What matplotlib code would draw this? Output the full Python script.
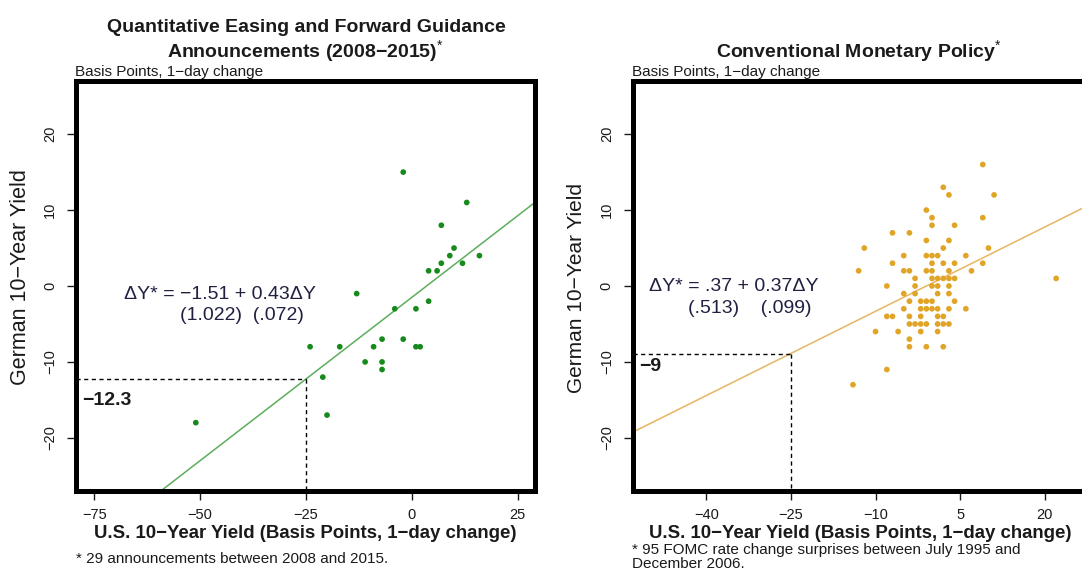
import matplotlib
matplotlib.use("Agg")
import matplotlib.pyplot as plt

plt.rcParams['font.family'] = ['Liberation Sans', 'DejaVu Sans']
plt.rcParams['mathtext.fontset'] = 'custom'
plt.rcParams['mathtext.rm'] = 'Liberation Sans'
plt.rcParams['mathtext.bf'] = 'Liberation Sans:bold'
plt.rcParams['axes.unicode_minus'] = True

# ---- QE and forward guidance announcements (2008-2015), bp 1-day change ----
qe_us = [-2, 13, 7, 10, 9, 7, 12, 16, 4, 6, -13, 4, -4, 1,
         -24, -17, -9, -7, -2, 1, 2, -11, -7, -7, -21, -20, -51]
qe_de = [15, 11, 8, 5, 4, 3, 3, 4, 2, 2, -1, -2, -3, -3,
         -8, -8, -8, -7, -7, -8, -8, -10, -10, -11, -12, -17, -18]
qe_intercept, qe_slope = -1.51, 0.43
qe_se = ["1.022", ".072"]
qe_at_us, qe_at_de = -25, -12.3

# ---- Conventional monetary policy surprises (1995-2006) ----
conv_us = [9, 2, 3, 11, -1,
           0, 9,
           0, 4,
           -7, -4,
           -1, 3,
           -12, 2, 10,
           -5, -1, 0, 1, 6,
           -7, 0, 2, 4, 9,
           -13, -5, -4, -1, 0, 3, 7,
           -3, 0, 1, 2, 3, 4, 22,
           -8, -3, 0, 1, 3,
           -5, -3, 1, 3,
           -4, -2, -1, 0, 4,
           -5, -2, -1, 0, 1, 3, 6,
           -8, -7, -4, -2, 1, 2,
           -4, -3, -2, -1, 1, 2, 3,
           -10, -6, -2, 1,
           -4,
           -4, -1, 2,
           -8, -14]
conv_de = [16, 13, 12, 12, 10,
           9, 9,
           8, 8,
           7, 7,
           6, 6,
           5, 5, 5,
           4, 4, 4, 4, 4,
           3, 3, 3, 3, 3,
           2, 2, 2, 2, 2, 2, 2,
           1, 1, 1, 1, 1, 1, 1,
           0, 0, 0, 0, 0,
           -1, -1, -1, -1,
           -2, -2, -2, -2, -2,
           -3, -3, -3, -3, -3, -3, -3,
           -4, -4, -4, -4, -4, -4,
           -5, -5, -5, -5, -5, -5, -5,
           -6, -6, -6, -6,
           -7,
           -8, -8, -8,
           -11, -13]
conv_intercept, conv_slope = 0.37, 0.37
conv_se = [".513", ".099"]
conv_at_us, conv_at_de = -25, -9

y_ticks = [-20, -10, 0, 10, 20]
qe_xticks = [-75, -50, -25, 0, 25]
conv_xticks = [-40, -25, -10, 5, 20]

W, H = 1082, 571
TXT = '#1a1a1a'
EQ = '#202040'

fig = plt.figure(figsize=(W / 100, H / 100), dpi=100)


def px_axes(x0, x1, y0, y1):
    return fig.add_axes([x0 / W, 1 - y1 / H, (x1 - x0) / W, (y1 - y0) / H])


def ftext(x, y, s, **kw):
    kw.setdefault('color', TXT)
    fig.text(x / W, 1 - y / H, s, **kw)


def minus(s):
    return s.replace('-', '\u2212')


def coef(v):
    # R-style short form for values between 0 and 1 (".37")
    s = f"{v:.2f}"
    if 0 < v < 1:
        s = s[1:]
    return minus(s)


def panel(ax, us, de, pt_color, ln_color, a, b, xlim, xticks,
          at_us, at_de, eq_pos, se, se_gap, se_pos, lab_pos):
    ax.set_xlim(*xlim)
    ax.set_ylim(-27, 27)
    ax.scatter(us, de, s=17, color=pt_color, edgecolors='none', zorder=3)
    ax.axline((0, a), slope=b, color=ln_color, lw=1.1, zorder=2)
    ax.plot([xlim[0], at_us], [at_de, at_de], color='black', lw=1.0,
            ls=(0, (3, 2.5)), zorder=2)
    ax.plot([at_us, at_us], [at_de, -27], color='black', lw=1.0,
            ls=(0, (3, 2.5)), zorder=2)
    eq = f"\u0394Y* = {coef(a)} + {b:.2f}\u0394Y"
    ax.text(eq_pos[0], eq_pos[1], eq, fontsize=14, color=EQ,
            ha='left', va='center')
    ax.text(se_pos[0], se_pos[1], f"({se[0]}){' ' * se_gap}({se[1]})",
            fontsize=14, color=EQ, ha='left', va='center')
    ax.text(lab_pos[0], lab_pos[1], minus(f"{at_de:g}"),
            fontsize=14, weight='bold', color=TXT, ha='left', va='center')

    ax.set_xticks(xticks)
    ax.set_xticklabels([minus(str(t)) for t in xticks])
    ax.set_yticks(y_ticks)
    ax.set_yticklabels([minus(str(t)) for t in y_ticks],
                       rotation=90, va='center')
    ax.tick_params(axis='both', direction='out', length=6.5, width=1.0,
                   labelsize=10.5, colors=TXT)
    ax.tick_params(axis='x', pad=6)
    ax.tick_params(axis='y', pad=7)
    ax.tick_params(top=False, right=False)
    for sp in ax.spines.values():
        sp.set_linewidth(3.6)
        sp.set_color('black')
        sp.set_capstyle('projecting')


# Left panel
axL = px_axes(75.8, 535, 81, 491)
panel(axL, qe_us, qe_de, '#178a1c', '#5dad5d', qe_intercept, qe_slope,
      (-79.35, 29.13), qe_xticks, qe_at_us, qe_at_de,
      (-68.0, -1.06), qe_se, 2, (-54.7, -3.9), (-77.9, -15.1))

# Right panel (its right edge runs past the page)
axR = px_axes(632.5, 1091.7, 81, 491)
panel(axR, conv_us, conv_de, '#e0a526', '#e8b560', conv_intercept, conv_slope,
      (-53.07, 28.3), conv_xticks, conv_at_us, conv_at_de,
      (-50.1, -0.09), conv_se, 4, (-43.2, -2.94), (-51.9, -10.55))

# Titles
ftext(306, 32, "Quantitative Easing and Forward Guidance", ha='center',
      va='baseline', fontsize=14, weight='bold')
ftext(305, 58, "Announcements (2008\u22122015)$^{*}$", ha='center',
      va='baseline', fontsize=14, weight='bold')
ftext(859, 58, "Conventional Monetary Policy$^{*}$", ha='center',
      va='baseline', fontsize=14, weight='bold')

# Units notes above the frames
ftext(75, 76, "Basis Points, 1\u2212day change", ha='left', va='baseline',
      fontsize=11)
ftext(632, 76, "Basis Points, 1\u2212day change", ha='left', va='baseline',
      fontsize=11)

# Axis titles
xlab = "U.S. 10\u2212Year Yield (Basis Points, 1\u2212day change)"
ftext(305, 538, xlab, ha='center', va='baseline', fontsize=13.4, weight='bold')
ftext(860, 538, xlab, ha='center', va='baseline', fontsize=13.4, weight='bold')
ftext(21, 277, "German 10\u2212Year Yield", ha='center', va='center',
      rotation=90, fontsize=15.5)
ftext(577, 288, "German 10\u2212Year Yield", ha='center', va='center',
      rotation=90, fontsize=15)

# Footnotes
ftext(76, 563, "* 29 announcements between 2008 and 2015.", ha='left',
      va='baseline', fontsize=11)
ftext(632, 554, "* 95 FOMC rate change surprises between July 1995 and",
      ha='left', va='baseline', fontsize=11)
ftext(632, 568, "December 2006.", ha='left', va='baseline', fontsize=11)

fig.savefig("out.png", dpi=100)
